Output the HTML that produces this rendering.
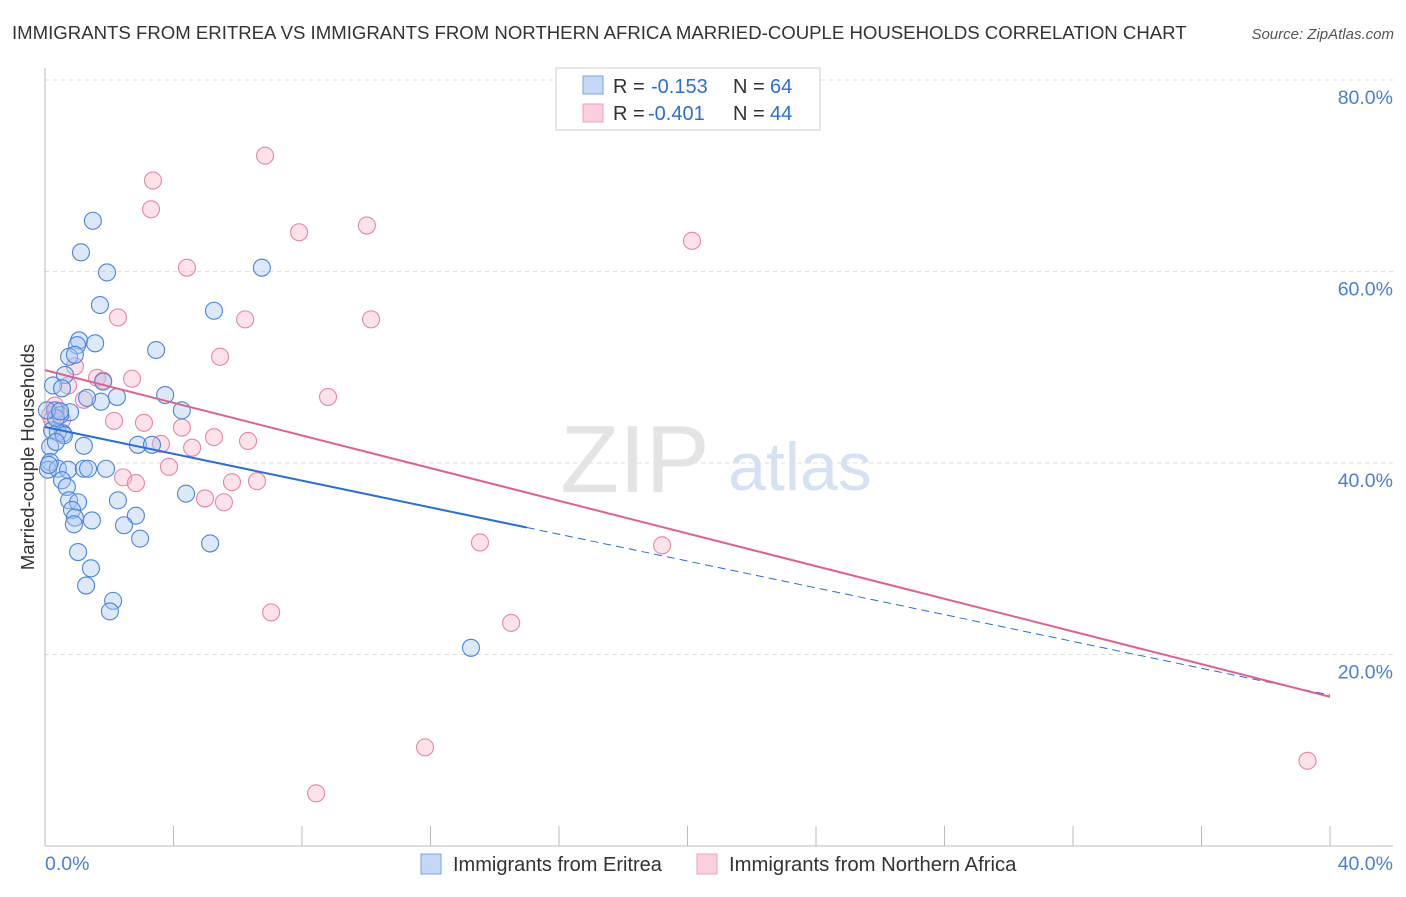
<!DOCTYPE html>
<html><head><meta charset="utf-8"><style>
body{margin:0;background:#fff;font-family:"Liberation Sans",sans-serif;}
svg text{font-family:"Liberation Sans",sans-serif;}
</style></head><body>
<svg width="1406" height="892">
<text x="12" y="39" font-size="18.6" fill="#333">IMMIGRANTS FROM ERITREA VS IMMIGRANTS FROM NORTHERN AFRICA MARRIED-COUPLE HOUSEHOLDS CORRELATION CHART</text>
<text x="1394" y="39" font-size="15" fill="#555" font-style="italic" text-anchor="end">Source: ZipAtlas.com</text>
<g id="grid"></g>
<g>
<text x="635" y="492" font-size="96" fill="#e4e4e4" font-family="Liberation Serif" text-anchor="middle">ZIP</text>
<text x="800" y="490" font-size="68" fill="#d6e2f3" text-anchor="middle">atlas</text>
</g>
<line x1="45" y1="68" x2="45" y2="846" stroke="#bbb"/>
<line x1="45" y1="846" x2="1393" y2="846" stroke="#bbb"/>
<g id="xticks"></g>
<text x="45" y="870" font-size="19.5" fill="#4a7fd8">0.0%</text>
<text x="1393" y="870" font-size="19.5" fill="#4a7fd8" text-anchor="end">40.0%</text>
<text transform="translate(34,457) rotate(-90)" font-size="18.5" fill="#333" text-anchor="middle">Married-couple Households</text>
<g id="pts"></g>
<g id="trends"></g>
<g>
<rect x="556" y="68" width="264" height="62" fill="#fff" stroke="#ccc"/>
<rect x="583" y="76" width="20" height="18" fill="#c5d8f5" stroke="#7aa3e0"/>
<rect x="583" y="104" width="20" height="18" fill="#fbd0dc" stroke="#eea0b6"/>
<text x="613" y="93" font-size="20" fill="#333">R =</text>
<text x="651" y="93" font-size="20" fill="#2d6fd6">-0.153</text>
<text x="733" y="93" font-size="20" fill="#333">N =</text>
<text x="770" y="93" font-size="20" fill="#2d6fd6">64</text>
<text x="613" y="120" font-size="20" fill="#333">R =</text>
<text x="648" y="120" font-size="20" fill="#2d6fd6">-0.401</text>
<text x="733" y="120" font-size="20" fill="#333">N =</text>
<text x="770" y="120" font-size="20" fill="#2d6fd6">44</text>
</g>
<g>
<rect x="421" y="854" width="20" height="20" fill="#c5d8f5" stroke="#7aa3e0"/>
<text x="453" y="871" font-size="20" fill="#333">Immigrants from Eritrea</text>
<rect x="697" y="854" width="20" height="20" fill="#fbd0dc" stroke="#eea0b6"/>
<text x="729" y="871" font-size="20.3" fill="#333">Immigrants from Northern Africa</text>
</g>
</svg>
<script>
const yTicks=[20,40,60,80];
const xTicks=[0,4,8,12,16,20,24,28,32,36,40];
const blueX=[1.49,1.12,1.93,6.75,1.71,5.26,1.06,1.56,1.00,3.46,0.75,0.93,0.62,1.81,0.25,0.53,3.74,2.24,1.74,1.31,4.26,0.78,0.31,0.47,0.22,0.56,0.40,0.16,1.21,2.89,3.33,0.16,0.09,0.40,0.72,1.21,1.34,1.90,0.53,0.68,0.75,1.03,2.27,4.39,0.84,0.93,1.46,2.83,0.90,2.46,2.96,5.14,1.03,1.43,1.28,2.12,2.02,13.26,0.34,0.06,0.47,0.59,0.12,0.34];
const blueY=[65.3,62.0,59.9,60.4,56.5,55.9,52.8,52.5,52.3,51.8,51.1,51.3,49.2,48.5,48.1,47.8,47.1,46.9,46.4,46.8,45.5,45.3,45.5,45.0,43.4,43.1,43.2,41.7,41.8,41.9,41.9,40.1,39.3,39.4,39.3,39.4,39.4,39.4,38.2,37.5,36.1,35.9,36.1,36.8,35.1,34.3,34.0,34.5,33.6,33.5,32.1,31.6,30.7,29.0,27.2,25.6,24.5,20.7,44.7,45.5,45.4,42.9,39.8,42.2];
const pinkX=[6.85,3.36,3.30,10.02,7.91,20.14,4.42,2.27,6.23,10.15,5.45,0.93,1.62,1.81,2.71,0.72,8.81,1.21,0.34,0.16,0.53,2.15,3.08,4.26,5.26,6.32,3.61,4.58,3.86,2.43,2.83,5.82,6.60,4.98,5.57,13.54,19.21,14.51,7.04,11.83,8.44,39.3,0.31,0.22];
const pinkY=[72.1,69.5,66.5,64.8,64.1,63.2,60.4,55.2,55.0,55.0,51.1,50.1,48.9,48.6,48.8,48.1,46.9,46.6,45.5,45.0,44.5,44.4,44.2,43.7,42.7,42.3,42.0,41.6,39.6,38.5,37.9,38.0,38.1,36.3,35.9,31.7,31.4,23.3,24.4,10.3,5.5,8.9,46.0,44.5];
const trendBlue=[43.76,-0.70,15.0];
const trendPink=[49.7,-0.853];
const NS='http://www.w3.org/2000/svg';
const sx=v=>45+v*32.125, sy=v=>846-v*9.575;
function mk(t,a,p){const e=document.createElementNS(NS,t);for(const k in a)e.setAttribute(k,a[k]);p.appendChild(e);return e;}
const grid=document.getElementById('grid');
yTicks.forEach(t=>{
 const l=mk('line',{x1:45,x2:1393,y1:sy(t),y2:sy(t),stroke:'#ddd','stroke-dasharray':'4,4'},grid);
 
 
 const tx=mk('text',{x:1393,y:sy(t)+24,'font-size':19.5,fill:'#4a7fd8','text-anchor':'end'},grid);
 tx.textContent=t.toFixed(1)+'%';
 
 
});
const xt=document.getElementById('xticks');
xTicks.forEach(t=>{
 const l=mk('line',{x1:sx(t),x2:sx(t),y1:826,y2:846,stroke:'#bbb'},xt);
 
 
});
const pts=document.getElementById('pts');
function plot(X,Y,fill,stroke,name){X.forEach((x,i)=>{
 const c=mk('circle',{cx:sx(x),cy:sy(Y[i]),r:8.5,fill:fill,'fill-opacity':0.4,stroke:stroke,'stroke-width':1.1},pts);
 
 
});}
plot(pinkX,pinkY,'#f7b8ca','#e884a3','point-northern-africa');
plot(blueX,blueY,'#a9c6f0','#4a85dc','point-eritrea');
const tr=document.getElementById('trends');
const fb=x=>trendBlue[0]+trendBlue[1]*x, fp=x=>trendPink[0]+trendPink[1]*x;
let e=mk('line',{x1:sx(0),y1:sy(fb(0)),x2:sx(trendBlue[2]),y2:sy(fb(trendBlue[2])),stroke:'#2a6fd6','stroke-width':2},tr);


e=mk('line',{x1:sx(trendBlue[2]),y1:sy(fb(trendBlue[2])),x2:sx(40),y2:sy(fb(40)),stroke:'#2a6fd6','stroke-width':1,'stroke-dasharray':'8,5'},tr);


e=mk('line',{x1:sx(0),y1:sy(fp(0)),x2:sx(40),y2:sy(fp(40)),stroke:'#e0628c','stroke-width':2},tr);


</script>
</body></html>
